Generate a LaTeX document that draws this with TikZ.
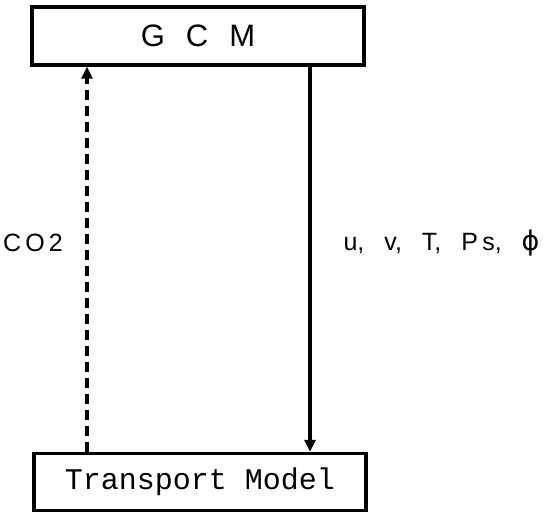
\documentclass[tikz,border=0pt]{standalone}
\usepackage{fontspec}
\setmainfont{Liberation Sans}
\setmonofont{Liberation Mono}
\newfontfamily\phifont{DejaVu Sans}
\usetikzlibrary{positioning,arrows.meta}
\begin{document}
\begin{tikzpicture}[x=1pt,y=-1pt,
  model box/.style={draw,line width=3.4pt,minimum width=332pt,inner sep=0pt},
  flow/.style={line width=3.2pt,-{Triangle[length=12pt,width=11pt]}},
  flow label/.style={font=\fontsize{25}{30}\selectfont}]
  \useasboundingbox (0,0) rectangle (552,513);

  \node[model box,minimum height=58pt] (gcm) at (198,36)
    {\fontsize{31}{36}\selectfont G\hspace{21pt}C\hspace{21pt}M};
  \node[model box,minimum height=57pt] (tm) at (200,482)
    {\ttfamily\fontsize{30}{36}\selectfont Transport Model};

  \coordinate (up) at (87,0);
  \coordinate (down) at (310,0);

  \draw[flow,dash pattern=on 10pt off 6pt] (tm.north -| up) -- (gcm.south -| up);
  \draw[flow] (gcm.south -| down) -- (tm.north -| down);

  \node[flow label] (co2) at (33,243) {C\,O\,2};
  \node[flow label,anchor=west] (vars) at (340,243)
    {u,\hspace{20pt}v,\hspace{20pt}T,\hspace{20pt}P\,s,\hspace{20pt}{\phifont\fontsize{27}{30}\selectfont ϕ}};
\end{tikzpicture}
\end{document}
